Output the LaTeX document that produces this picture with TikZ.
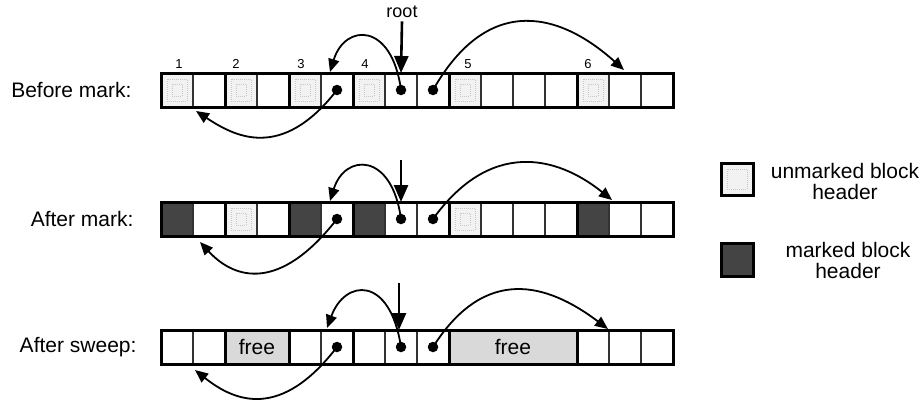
\documentclass[tikz,border=0pt]{standalone}
\usepackage{fontspec}
\setmainfont{Liberation Sans}
\usetikzlibrary{arrows.meta,patterns}

\definecolor{markgray}{RGB}{68,68,68}
\definecolor{freegray}{RGB}{217,217,217}

\begin{document}
\begin{tikzpicture}[x=1pt, y=-1pt,
  cellline/.style={line width=1.1pt, draw=black!80},
  blockline/.style={line width=3pt},
  unmarked/.style={fill=black!5, draw=none},
  hdrdots/.style={draw=black!22, densely dotted, line width=1pt},
  marked/.style={fill=markgray, draw=none},
  freeblk/.style={fill=freegray, draw=none},
  dot/.style={circle, fill=black, inner sep=0pt, minimum size=10.5pt},
  ptr/.style={line width=1.8pt, -{Triangle[length=13pt, width=11pt]}},
  rootptr/.style={line width=2.6pt, -{Triangle[length=17pt, width=14pt]}},
  lbl/.style={font=\fontsize{21}{21}\selectfont},
  num/.style={font=\fontsize{13}{13}\selectfont}]
\useasboundingbox (0,0) rectangle (924,400);

%labels
\node[lbl, anchor=east] (lbefore) at (135,90) {Before mark:};
\node[lbl, anchor=east] (lafter) at (137,219) {After mark:};
\node[lbl, anchor=east] (lsweep) at (140,347) {After sweep:};

%row 1: before mark
\foreach \x in {161,225,289,353,449,577}{
  \fill[unmarked] (\x,73) rectangle ++(32,34);
  \draw[hdrdots] (\x+6,79) rectangle ++(20,22);
  \draw[hdrdots] (\x+11,84) rectangle ++(10,12);}
\foreach \i in {0,...,15} \draw[cellline] (161+32*\i,73) rectangle ++(32,34);
\draw[blockline] (161,73) rectangle (673,107);
\foreach \x in {225,289,353,449,577} \draw[blockline] (\x,73) -- (\x,107);
\foreach \x/\n in {179/1,236/2,301/3,365/4,468/5,588/6} \node[num] (n\n) at (\x,64) {\n};

%row 2: after mark
\foreach \x in {225,449}{
  \fill[unmarked] (\x,202) rectangle ++(32,34);
  \draw[hdrdots] (\x+6,208) rectangle ++(20,22);
  \draw[hdrdots] (\x+11,213) rectangle ++(10,12);}
\foreach \x in {161,289,353,577} \fill[marked] (\x,202) rectangle ++(32,34);
\foreach \i in {0,...,15} \draw[cellline] (161+32*\i,202) rectangle ++(32,34);
\draw[blockline] (161,202) rectangle (673,236);
\foreach \x in {225,289,353,449,577} \draw[blockline] (\x,202) -- (\x,236);

%row 3: after sweep
\fill[freeblk] (225,330) rectangle node[lbl] (free1) {free} (289,364);
\fill[freeblk] (449,330) rectangle node[lbl] (free2) {free} (577,364);
\foreach \i in {0,1,4,5,6,7,8,13,14,15} \draw[cellline] (161+32*\i,330) rectangle ++(32,34);
\draw[blockline] (161,330) rectangle (673,364);
\foreach \x in {225,289,353,449,577} \draw[blockline] (\x,330) -- (\x,364);

%pointers
\node[dot] (pa6) at (337,90) {};
\node[dot] (pa8) at (401,90) {};
\node[dot] (pa9) at (433,90) {};
\node[dot] (pb6) at (337,219) {};
\node[dot] (pb8) at (401,219) {};
\node[dot] (pb9) at (433,219) {};
\node[dot] (pc6) at (337,347) {};
\node[dot] (pc8) at (401,347) {};
\node[dot] (pc9) at (433,347) {};

\coordinate (ta3) at (330,72);
\coordinate (ta6) at (624,70);
\coordinate (ta1) at (196,111);
\coordinate (tb3) at (330,201);
\coordinate (tb6) at (612,200);
\coordinate (tb1) at (200,242);
\coordinate (tc3) at (327,328);
\coordinate (tc6) at (608,329);
\coordinate (tc1) at (195,370);

\draw[ptr] (pa8.center) .. controls (392,22) and (345,23) .. (ta3);
\draw[ptr] (pa9.center) .. controls (490,-10) and (563,15) .. (ta6);
\draw[ptr] (pa6.center) .. controls (281,162) and (234,136) .. (ta1);
\draw[ptr] (pb8.center) .. controls (392,152) and (345,153) .. (tb3);
\draw[ptr] (pb9.center) .. controls (490,140) and (556,155) .. (tb6);
\draw[ptr] (pb6.center) .. controls (280,292) and (235,280) .. (tb1);
\draw[ptr] (pc8.center) .. controls (390,275) and (345,279) .. (tc3);
\draw[ptr] (pc9.center) .. controls (485,265) and (547,283) .. (tc6);
\draw[ptr] (pc6.center) .. controls (281,420) and (235,402) .. (tc1);

%roots
\node[font=\fontsize{18}{18}\selectfont] (root) at (402,12) {root};
\coordinate (ra) at (401,73);
\coordinate (rb0) at (401,160);
\coordinate (rb) at (401,202);
\coordinate (rc0) at (399,283);
\coordinate (rc) at (399,330);
\draw[rootptr] (root.south) -- (ra);
\draw[rootptr] (rb0) -- (rb);
\draw[rootptr] (rc0) -- (rc);

%legend
\fill[unmarked] (721,163) rectangle (753,195);
\draw[hdrdots] (727,169) rectangle (747,189);
\draw[blockline] (721,163) rectangle (753,195);
\filldraw[marked, blockline, draw=black] (721,243) rectangle (753,276);
\node[lbl, align=center] (leg1) at (845,181) {unmarked block\\header};
\node[lbl, align=center] (leg2) at (848,260) {marked block\\header};
\end{tikzpicture}
\end{document}
